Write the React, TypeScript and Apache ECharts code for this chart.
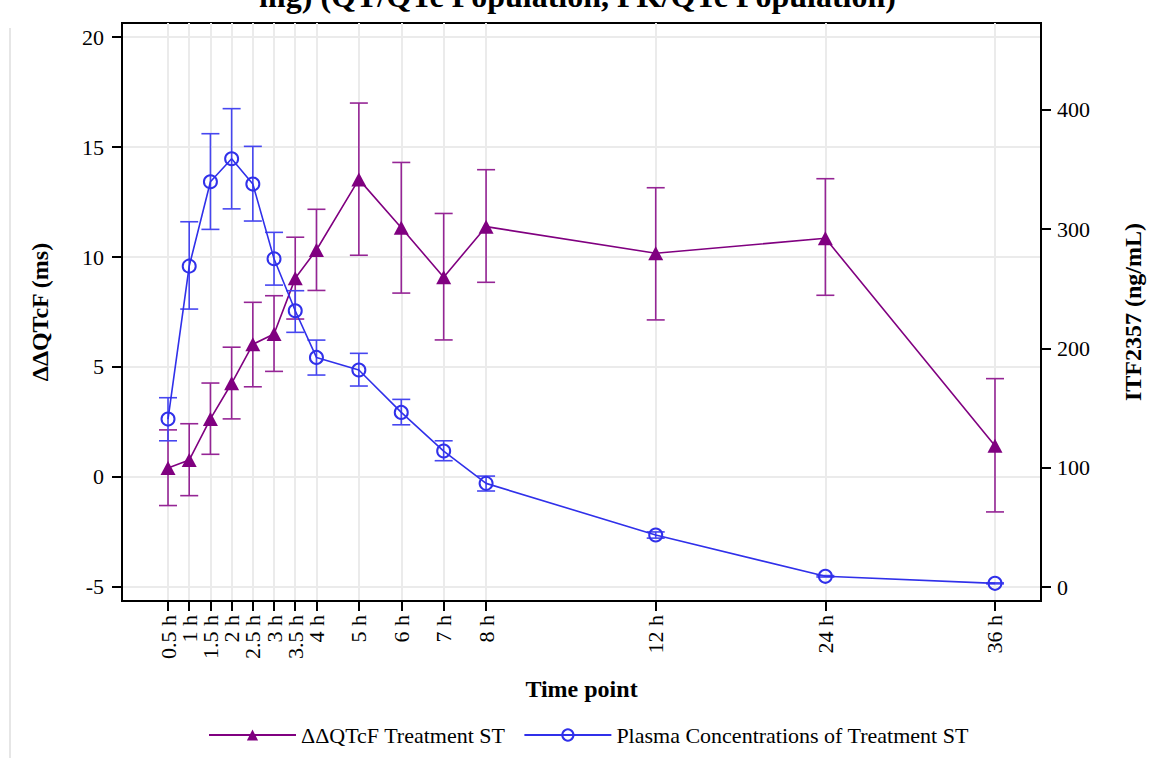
import React, { useEffect, useRef } from "react";
import * as echarts from "echarts";

// Sampling times (hours) and their axis labels
const hours = [0.5, 1, 1.5, 2, 2.5, 3, 3.5, 4, 5, 6, 7, 8, 12, 24, 36];
const timeLabels = ["0.5 h", "1 h", "1.5 h", "2 h", "2.5 h", "3 h", "3.5 h", "4 h", "5 h", "6 h", "7 h", "8 h", "12 h", "24 h", "36 h"];

// ΔΔQTcF (ms): mean with 90% CI bounds
const qtcfMean = [0.41, 0.77, 2.64, 4.26, 6.03, 6.5, 9.03, 10.32, 13.53, 11.33, 9.08, 11.38, 10.17, 10.85, 1.42];
const qtcfUpper = [2.14, 2.42, 4.27, 5.9, 7.94, 8.24, 10.9, 12.17, 17.0, 14.3, 11.98, 13.97, 13.15, 13.56, 4.47];
const qtcfLower = [-1.3, -0.85, 1.03, 2.64, 4.1, 4.8, 7.18, 8.48, 10.08, 8.36, 6.23, 8.85, 7.14, 8.26, -1.59];

// ITF2357 plasma concentration (ng/mL): mean with error bounds
const concMean = [140.8, 269, 339.7, 359, 337.8, 275.2, 231.6, 192.5, 181.9, 146.4, 114, 86.9, 43.6, 9, 3.1];
const concUpper = [158.7, 306.2, 380, 401, 369.4, 297.3, 248.4, 207, 195.9, 157.3, 122.6, 93, 46.2, 9.6, 3.5];
const concLower = [122.6, 233, 299.8, 317, 306.8, 253.1, 213.5, 177.7, 168.5, 136, 105.9, 80.5, 41.0, 8.4, 2.7];

const leftTicks = [-5, 0, 5, 10, 15, 20];
const rightTicks = [0, 100, 200, 300, 400];

const PURPLE = "#800080";
const PURPLE_BAR = "#952595";
const BLUE = "#3030ea";
const BLUE_BAR = "#4646f0";
const FONT = "Liberation Serif";

// Time scale: linear up to 12 h, compressed 3:1 beyond
const xPos = (h: number) => (h <= 12 ? h : 12 + (h - 12) / 3);
const xTicks = hours.map(xPos);
// The rotated labels sit closer than their boxes allow, so they are split
// over two stacked bottom axes (alternate ticks) to keep every label shown.
const xTicksEven = xTicks.filter((_, i) => i % 2 === 0);
const xTicksOdd = xTicks.filter((_, i) => i % 2 === 1);
const labelFor = (v: number) => {
  const i = xTicks.findIndex((t) => Math.abs(t - v) < 1e-6);
  return i >= 0 ? timeLabels[i] : "";
};

const errorBars = (color: string) => (params: any, api: any) => {
  const x = api.value(0);
  const top = api.coord([x, api.value(2)]);
  const bot = api.coord([x, api.value(1)]);
  const hw = 9;
  const style = { stroke: color, lineWidth: 1.6, fill: "none" };
  return {
    type: "group",
    children: [
      { type: "line", shape: { x1: top[0], y1: top[1], x2: bot[0], y2: bot[1] }, style },
      { type: "line", shape: { x1: top[0] - hw, y1: top[1], x2: top[0] + hw, y2: top[1] }, style },
      { type: "line", shape: { x1: bot[0] - hw, y1: bot[1], x2: bot[0] + hw, y2: bot[1] }, style },
    ],
  };
};

export default function App() {
  const ref = useRef<HTMLDivElement>(null);

  useEffect(() => {
    if (!ref.current) return;
    const chart = echarts.init(ref.current, null, { renderer: "svg" });

    const tickLabelStyle = { fontFamily: FONT, fontSize: 22, color: "#000" };
    const nameStyle = { fontFamily: FONT, fontSize: 24, fontWeight: "bold" as const, color: "#000" };
    const tickStyle = { show: true, length: 10, lineStyle: { color: "#000", width: 2 } };
    const xLabel = (values: number[]) => ({
      ...tickLabelStyle,
      rotate: 90,
      margin: 14,
      interval: 0,
      hideOverlap: false,
      showMinLabel: true,
      showMaxLabel: true,
      customValues: values,
      formatter: (v: number) => labelFor(v),
    });

    chart.setOption({
      animation: false,
      backgroundColor: "#fff",
      grid: {
        left: 122,
        right: 114,
        top: 23,
        bottom: 157,
        show: true,
        borderColor: "#000",
        borderWidth: 2,
        backgroundColor: "transparent",
      },
      graphic: [
        {
          type: "text",
          left: "center",
          top: -20,
          style: {
            text: "mg) (QT/QTc Population, PK/QTc Population)",
            fontFamily: FONT,
            fontSize: 32,
            fontWeight: "bold",
            fill: "#000",
          },
        },
        {
          type: "line",
          shape: { x1: 10, y1: 28, x2: 10, y2: 758 },
          style: { stroke: "#e6e6e6", lineWidth: 2 },
        },
      ],
      legend: {
        top: 719,
        left: 203,
        itemWidth: 87,
        itemHeight: 14,
        itemGap: 18,
        data: ["ΔΔQTcF Treatment ST", "Plasma Concentrations of Treatment ST"],
        textStyle: { fontFamily: FONT, fontSize: 22, color: "#000" },
      },
      xAxis: [
        {
          type: "value",
          position: "bottom",
          min: -0.585,
          max: 21.085,
          name: "Time point",
          nameLocation: "middle",
          nameGap: 76,
          nameTextStyle: nameStyle,
          axisLine: { onZero: false, lineStyle: { color: "#000", width: 2 } },
          axisTick: { ...tickStyle, customValues: xTicks },
          axisLabel: xLabel(xTicksEven),
          splitLine: { show: true, lineStyle: { color: "#ebebeb", width: 2 } },
        },
        {
          type: "value",
          position: "bottom",
          min: -0.585,
          max: 21.085,
          axisLine: { show: false, onZero: false },
          axisTick: { show: false },
          axisLabel: xLabel(xTicksOdd),
          splitLine: { show: false },
        },
      ],
      yAxis: [
        {
          type: "value",
          min: -5.64,
          max: 20.64,
          name: "ΔΔQTcF (ms)",
          nameLocation: "middle",
          nameRotate: 90,
          nameGap: 70,
          nameTextStyle: nameStyle,
          axisLine: { show: true, onZero: false, lineStyle: { color: "#000", width: 2 } },
          axisTick: { ...tickStyle, customValues: leftTicks },
          axisLabel: { ...tickLabelStyle, margin: 18, customValues: leftTicks },
          splitLine: { show: true, lineStyle: { color: "#ebebeb", width: 2 } },
        },
        {
          type: "value",
          position: "right",
          min: -11.7,
          max: 472.8,
          name: "ITF2357 (ng/mL)",
          nameLocation: "middle",
          nameRotate: 90,
          nameGap: 80,
          nameTextStyle: nameStyle,
          axisLine: { show: true, onZero: false, lineStyle: { color: "#000", width: 2 } },
          axisTick: { ...tickStyle, customValues: rightTicks },
          axisLabel: { ...tickLabelStyle, margin: 16, customValues: rightTicks },
          splitLine: { show: false },
        },
      ],
      series: [
        {
          name: "qtcf-ci",
          type: "custom",
          xAxisIndex: 0,
          yAxisIndex: 0,
          z: 3,
          renderItem: errorBars(PURPLE_BAR),
          encode: { x: 0, y: [1, 2] },
          data: hours.map((h, i) => [xPos(h), qtcfLower[i], qtcfUpper[i]]),
        },
        {
          name: "ΔΔQTcF Treatment ST",
          type: "line",
          xAxisIndex: 0,
          yAxisIndex: 0,
          z: 4,
          symbol: "triangle",
          symbolSize: [15, 14],
          showAllSymbol: true,
          lineStyle: { color: PURPLE, width: 1.6 },
          itemStyle: { color: PURPLE },
          data: hours.map((h, i) => [xPos(h), qtcfMean[i]]),
        },
        {
          name: "conc-err",
          type: "custom",
          xAxisIndex: 0,
          yAxisIndex: 1,
          z: 5,
          renderItem: errorBars(BLUE_BAR),
          encode: { x: 0, y: [1, 2] },
          data: hours.map((h, i) => [xPos(h), concLower[i], concUpper[i]]),
        },
        {
          name: "Plasma Concentrations of Treatment ST",
          type: "line",
          xAxisIndex: 0,
          yAxisIndex: 1,
          z: 6,
          symbol: "circle",
          symbolSize: 13,
          showAllSymbol: true,
          lineStyle: { color: BLUE, width: 1.6 },
          itemStyle: { color: "rgba(255,255,255,0)", borderColor: BLUE, borderWidth: 2 },
          data: hours.map((h, i) => [xPos(h), concMean[i]]),
        },
      ],
    });

    return () => chart.dispose();
  }, []);

  return (
    <div
      ref={ref}
      style={{ position: "fixed", left: 0, top: 0, width: 1155, height: 758, background: "#fff" }}
    />
  );
}
